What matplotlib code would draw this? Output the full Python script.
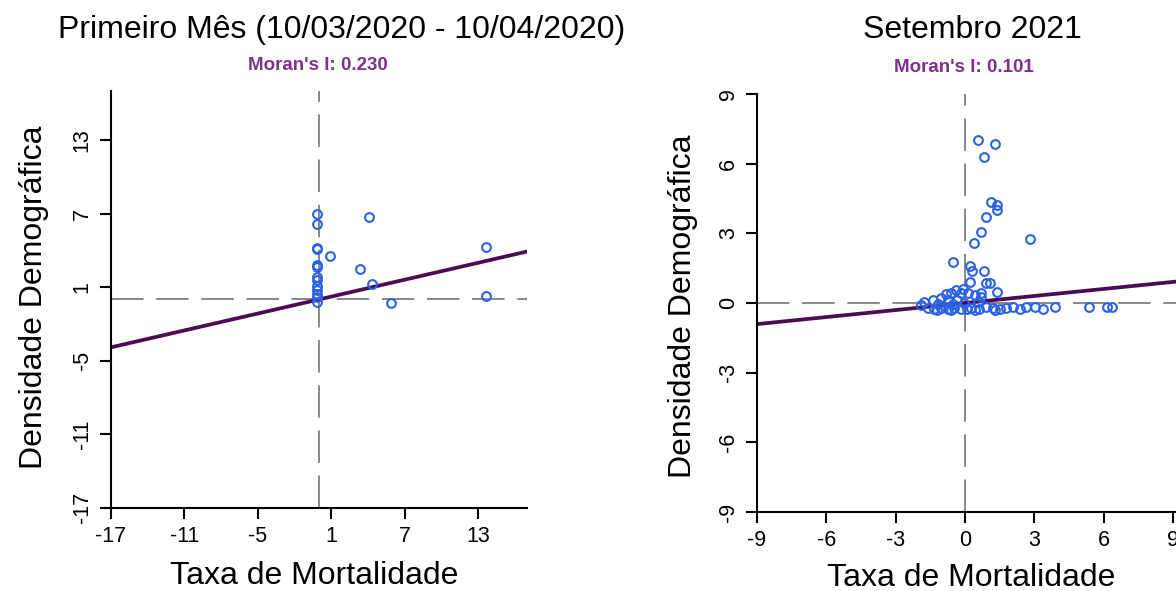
import matplotlib.pyplot as plt
import numpy as np

plt.rcParams['font.family'] = ['Liberation Sans', 'DejaVu Sans']
plt.rcParams['axes.unicode_minus'] = False

# primeiro mes
x_mes1 = [-0.19] * 13 + [4.10, 0.91, 3.34, 4.38, 5.93, 13.63, 13.63]
y_mes1 = [6.94, 6.17, 4.23, 4.09, 2.79, 2.65, 1.82, 1.55, 1.13, 0.80, 0.44, 0.17, -0.19,
          6.72, 3.54, 2.49, 1.24, -0.30, 4.31, 0.30]
moran_mes1 = 0.230
ticks_mes1 = [-17, -11, -5, 1, 7, 13]

# setembro 2021
x_set = [0.56, 1.30, 0.81, 1.11, 1.37, 1.37, 0.89, 0.71, 0.40, 2.81, -0.52, 0.22, 0.30, 0.81,
         0.22, 0.89, 1.37, 0.71,
         -0.10, -0.39, -0.61, -0.82, -0.17, 0.12, 0.41, 0.69, -1.04, -1.40, -0.75, -0.33,
         -1.77, -1.19, -0.54, -0.04, 0.55, 1.06,
         -1.62, -1.33, -1.04, -0.75, -0.46, -0.17, 0.26, 0.62, 0.91, 1.20, 1.49, 1.78,
         2.07, 2.36, 2.65, 3.01, 3.37, 3.88, 5.35, 6.15, 6.35,
         -1.90, -1.20, -0.60, 0.10, 0.45, 1.30]
y_set = [7.03, 6.85, 6.30, 4.36, 4.22, 4.00, 3.70, 3.05, 2.58, 2.75, 1.77, 1.58, 1.36, 1.36,
         0.92, 0.88, 0.48, 0.41,
         0.62, 0.55, 0.43, 0.40, 0.41, 0.41, 0.34, 0.27, 0.23, 0.15, 0.15, 0.12,
         0.04, -0.03, -0.03, 0.00, 0.04, 0.86,
         -0.22, -0.25, -0.20, -0.24, -0.22, -0.26, -0.20, -0.25, -0.18, -0.22, -0.27, -0.20,
         -0.18, -0.24, -0.18, -0.18, -0.27, -0.18, -0.18, -0.18, -0.18,
         -0.10, -0.30, -0.28, -0.25, -0.30, -0.30]
moran_set = 0.101
ticks_set = [-9, -6, -3, 0, 3, 6, 9]

W, H = 1176, 591
fig = plt.figure(figsize=(W / 100, H / 100), dpi=100)

ax1 = fig.add_axes([110.9 / W, 1 - 507.7 / H, 416 / W, 416.5 / H])
ax2 = fig.add_axes([756.9 / W, 1 - 512.1 / H, 427.9 / W, 418.2 / H])

blue = "#2a62e6"
purple = "#4d0a55"
grey = "#7f7f7f"


def moran_plot(ax, x, y, slope, ticks, xlim, ylim):
    ax.axvline(0, color=grey, lw=1.3, ls=(0, (18, 7)), zorder=1)
    ax.axhline(0, color=grey, lw=1.3, ls=(0, (18, 7)), zorder=1)
    xx = np.array(xlim)
    ax.plot(xx, slope * xx, color=purple, lw=2.7, zorder=2)
    ax.plot(x, y, "o", mfc="none", mec=blue, ms=6.3, mew=1.5, zorder=3)
    ax.set_xlim(*xlim)
    ax.set_ylim(*ylim)
    ax.set_xticks(ticks)
    ax.set_yticks(ticks)
    for s in ["top", "right"]:
        ax.spines[s].set_visible(False)
    for s in ["left", "bottom"]:
        ax.spines[s].set_linewidth(1.5)
    ax.tick_params(direction="out", length=8, width=1.5, labelsize=15.5, pad=5)
    ax.tick_params(axis="y", labelrotation=90)
    for lab in ax.get_yticklabels():
        lab.set_va("center")


moran_plot(ax1, x_mes1, y_mes1, moran_mes1, ticks_mes1, (-17, 17), (-17, 17))
moran_plot(ax2, x_set, y_set, moran_set, ticks_set, (-9, 9.5), (-9, 9))

fig.text(342 / W, 1 - 30 / H, "Primeiro Mês (10/03/2020 - 10/04/2020)", fontsize=23,
         ha="center", va="center")
fig.text(972 / W, 1 - 30 / H, "Setembro 2021", fontsize=23, ha="center", va="center")
fig.text(318 / W, 1 - 65 / H, f"Moran's I: {moran_mes1:.3f}", fontsize=13.5,
         fontweight="bold", color="#80308f", ha="center", va="center")
fig.text(964 / W, 1 - 68 / H, f"Moran's I: {moran_set:.3f}", fontsize=13.5,
         fontweight="bold", color="#80308f", ha="center", va="center")

fig.text(34 / W, 1 - 297 / H, "Densidade Demográfica", fontsize=23, rotation=90,
         ha="center", va="center")
fig.text(314 / W, 1 - 576 / H, "Taxa de Mortalidade", fontsize=23, ha="center", va="center")
fig.text(683 / W, 1 - 306 / H, "Densidade Demográfica", fontsize=23, rotation=90,
         ha="center", va="center")
fig.text(971 / W, 1 - 578 / H, "Taxa de Mortalidade", fontsize=23, ha="center", va="center")

fig.savefig("out.png", dpi=100)
